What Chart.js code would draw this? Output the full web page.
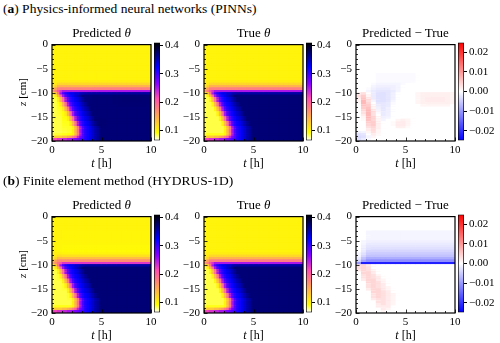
<!DOCTYPE html>
<html>
<head>
<meta charset="utf-8">
<script src="https://cdn.jsdelivr.net/npm/chart.js@4"></script>
<style>
  body { margin: 0; background: #fff; }
  #fig { position: relative; width: 500px; height: 343px; overflow: hidden; font-family: "Liberation Serif", serif; color: #000; }
  #fig canvas { position: absolute; }
  .lbl { position: absolute; white-space: nowrap; line-height: 1; }
</style>
</head>
<body>
<div id="fig"></div>
<script>
// t cell edges [h]: finer for the theta maps where the front moves, coarser for the error maps
const tEdgesTheta = [0,0.25,0.5,0.75,1,1.25,1.5,1.75,2,2.25,2.5,2.75,3,3.25,3.5,3.75,4,4.25,4.5,4.75,5,5.5,6,6.5,7,7.5,8,8.5,9,9.5,10];
const tEdgesDiff = [0,0.5,1,1.5,2,2.5,3,3.5,4,4.5,5,5.5,6,6.5,7,7.5,8,8.5,9,9.5,10];
// z cell centres [cm]
const zCenters = [-0.25,-0.75,-1.25,-1.75,-2.25,-2.75,-3.25,-3.75,-4.25,-4.75,-5.25,-5.75,-6.25,-6.75,-7.25,-7.75,-8.25,-8.75,-9.25,-9.75,
  -10.25,-10.75,-11.25,-11.75,-12.25,-12.75,-13.25,-13.75,-14.25,-14.75,-15.25,-15.75,-16.25,-16.75,-17.25,-17.75,-18.25,-18.75,-19.25,-19.75];

const tTicks = [0, 5, 10];
const zTicks = [0, -5, -10, -15, -20];
const thetaTicks = [0.1, 0.2, 0.3, 0.4];
const diffTicks = [-0.02, -0.01, 0, 0.01, 0.02];
const thetaRange = [0.065, 0.41];
const diffRange = [-0.025, 0.025];

// true water content, rows = z (top to bottom), cols = tEdgesTheta cells
const thetaTrue = [
  [0.1,0.1,0.1,0.1,0.1,0.1,0.1,0.1,0.1,0.1,0.1,0.1,0.1,0.1,0.1,0.1,0.1,0.1,0.1,0.1,0.1,0.1,0.1,0.1,0.1,0.1,0.1,0.1,0.1,0.1],
  [0.1,0.1,0.1,0.1,0.1,0.1,0.1,0.1,0.1,0.1,0.1,0.1,0.1,0.1,0.1,0.1,0.1,0.1,0.1,0.1,0.1,0.1,0.1,0.1,0.1,0.1,0.1,0.1,0.1,0.1],
  [0.1,0.1,0.1,0.1,0.1,0.1,0.1,0.1,0.1,0.1,0.1,0.1,0.1,0.1,0.1,0.1,0.1,0.1,0.1,0.1,0.1,0.1,0.1,0.1,0.1,0.1,0.1,0.1,0.1,0.1],
  [0.1,0.1,0.1,0.1,0.1,0.1,0.1,0.1,0.1,0.1,0.1,0.1,0.1,0.1,0.1,0.1,0.1,0.1,0.1,0.1,0.1,0.1,0.1,0.1,0.1,0.1,0.1,0.1,0.1,0.1],
  [0.1,0.1,0.1,0.1,0.1,0.1,0.1,0.1,0.1,0.1,0.1,0.1,0.1,0.1,0.1,0.1,0.1,0.1,0.1,0.1,0.1,0.1,0.1,0.1,0.1,0.1,0.1,0.1,0.1,0.1],
  [0.1,0.1,0.1,0.1,0.1,0.1,0.1,0.1,0.1,0.1,0.1,0.1,0.1,0.1,0.1,0.1,0.1,0.1,0.1,0.1,0.1,0.1,0.1,0.1,0.1,0.1,0.1,0.1,0.1,0.1],
  [0.1,0.1,0.1,0.1,0.1,0.1,0.1,0.1,0.1,0.1,0.1,0.1,0.1,0.1,0.1,0.1,0.1,0.1,0.1,0.1,0.1,0.1,0.1,0.1,0.1,0.1,0.1,0.1,0.1,0.1],
  [0.1,0.1,0.1,0.1,0.1,0.1,0.1,0.1,0.1,0.1,0.1,0.1,0.1,0.1,0.1,0.1,0.1,0.1,0.1,0.1,0.1,0.1,0.1,0.1,0.1,0.1,0.1,0.1,0.1,0.1],
  [0.1,0.1,0.1,0.1,0.1,0.1,0.1,0.1,0.1,0.1,0.1,0.1,0.1,0.1,0.1,0.1,0.1,0.1,0.1,0.1,0.1,0.1,0.1,0.1,0.1,0.1,0.1,0.1,0.1,0.1],
  [0.1,0.1,0.1,0.1,0.1,0.1,0.1,0.1,0.1,0.1,0.1,0.1,0.1,0.1,0.1,0.1,0.1,0.1,0.1,0.1,0.1,0.1,0.1,0.1,0.1,0.1,0.1,0.1,0.1,0.1],
  [0.1,0.1,0.1,0.1,0.1,0.1,0.1,0.1,0.1,0.1,0.1,0.1,0.1,0.1,0.1,0.1,0.1,0.1,0.1,0.1,0.1,0.1,0.1,0.1,0.1,0.1,0.1,0.1,0.1,0.1],
  [0.1,0.1,0.1,0.1,0.1,0.1,0.1,0.1,0.1,0.1,0.1,0.1,0.1,0.1,0.1,0.1,0.1,0.1,0.1,0.1,0.1,0.1,0.1,0.1,0.1,0.1,0.1,0.1,0.1,0.1],
  [0.1,0.1,0.1,0.1,0.1,0.1,0.1,0.1,0.1,0.1,0.1,0.1,0.1,0.1,0.1,0.1,0.1,0.1,0.1,0.1,0.1,0.1,0.1,0.1,0.1,0.1,0.1,0.1,0.1,0.1],
  [0.1,0.1,0.1,0.1,0.1,0.1,0.1,0.1,0.1,0.1,0.1,0.1,0.1,0.1,0.1,0.1,0.1,0.1,0.1,0.1,0.1,0.1,0.1,0.1,0.1,0.1,0.1,0.1,0.1,0.1],
  [0.1,0.1,0.1,0.1,0.1,0.1,0.1,0.1,0.1,0.1,0.1,0.1,0.1,0.1,0.1,0.1,0.1,0.1,0.1,0.1,0.1,0.1,0.1,0.1,0.1,0.1,0.1,0.1,0.1,0.1],
  [0.105,0.105,0.105,0.105,0.105,0.105,0.105,0.105,0.105,0.105,0.105,0.105,0.105,0.105,0.105,0.105,0.105,0.105,0.105,0.105,0.105,0.105,0.105,0.105,0.105,0.105,0.105,0.105,0.105,0.105],
  [0.105,0.11,0.12,0.12,0.12,0.12,0.12,0.12,0.12,0.12,0.12,0.12,0.12,0.12,0.12,0.12,0.12,0.12,0.12,0.12,0.12,0.12,0.12,0.12,0.12,0.12,0.12,0.12,0.12,0.12],
  [0.11,0.125,0.145,0.145,0.145,0.145,0.145,0.145,0.145,0.145,0.145,0.145,0.145,0.145,0.145,0.145,0.145,0.145,0.145,0.145,0.145,0.145,0.145,0.145,0.145,0.145,0.145,0.145,0.145,0.145],
  [0.14,0.16,0.18,0.18,0.18,0.18,0.18,0.18,0.18,0.18,0.18,0.18,0.18,0.18,0.18,0.18,0.18,0.18,0.18,0.18,0.18,0.18,0.18,0.18,0.18,0.18,0.18,0.18,0.18,0.18],
  [0.16,0.18,0.21,0.23,0.25,0.25,0.25,0.25,0.25,0.25,0.25,0.25,0.25,0.25,0.25,0.25,0.25,0.25,0.25,0.25,0.25,0.25,0.25,0.25,0.25,0.25,0.25,0.25,0.25,0.25],
  [0.1,0.14,0.19,0.25,0.29,0.31,0.32,0.33,0.33,0.34,0.34,0.35,0.35,0.355,0.355,0.355,0.355,0.355,0.355,0.355,0.355,0.355,0.355,0.355,0.355,0.355,0.355,0.355,0.355,0.355],
  [0.085,0.1,0.14,0.19,0.25,0.29,0.31,0.32,0.33,0.34,0.35,0.36,0.37,0.37,0.37,0.37,0.37,0.37,0.37,0.37,0.37,0.37,0.37,0.37,0.37,0.37,0.37,0.37,0.37,0.37],
  [0.085,0.085,0.1,0.14,0.19,0.25,0.29,0.31,0.32,0.33,0.34,0.35,0.36,0.37,0.37,0.37,0.37,0.37,0.37,0.37,0.37,0.37,0.37,0.37,0.37,0.37,0.37,0.37,0.37,0.37],
  [0.085,0.085,0.1,0.14,0.19,0.25,0.29,0.31,0.32,0.33,0.34,0.35,0.36,0.37,0.37,0.37,0.37,0.37,0.37,0.37,0.37,0.37,0.37,0.37,0.37,0.37,0.37,0.37,0.37,0.37],
  [0.085,0.085,0.085,0.1,0.14,0.19,0.25,0.29,0.31,0.32,0.33,0.34,0.35,0.36,0.37,0.37,0.37,0.37,0.37,0.37,0.37,0.37,0.37,0.37,0.37,0.37,0.37,0.37,0.37,0.37],
  [0.085,0.085,0.085,0.1,0.14,0.19,0.25,0.29,0.31,0.32,0.33,0.34,0.35,0.36,0.37,0.37,0.37,0.37,0.37,0.37,0.37,0.37,0.37,0.37,0.37,0.37,0.37,0.37,0.37,0.37],
  [0.085,0.085,0.085,0.085,0.1,0.14,0.19,0.25,0.29,0.31,0.32,0.33,0.34,0.35,0.36,0.37,0.37,0.37,0.37,0.37,0.37,0.37,0.37,0.37,0.37,0.37,0.37,0.37,0.37,0.37],
  [0.085,0.085,0.085,0.085,0.1,0.14,0.19,0.25,0.29,0.31,0.32,0.33,0.34,0.35,0.36,0.37,0.37,0.37,0.37,0.37,0.37,0.37,0.37,0.37,0.37,0.37,0.37,0.37,0.37,0.37],
  [0.085,0.085,0.085,0.085,0.085,0.1,0.14,0.19,0.25,0.29,0.31,0.32,0.33,0.34,0.35,0.36,0.37,0.37,0.37,0.37,0.37,0.37,0.37,0.37,0.37,0.37,0.37,0.37,0.37,0.37],
  [0.085,0.085,0.085,0.085,0.085,0.1,0.14,0.19,0.25,0.29,0.31,0.32,0.33,0.34,0.35,0.36,0.37,0.37,0.37,0.37,0.37,0.37,0.37,0.37,0.37,0.37,0.37,0.37,0.37,0.37],
  [0.085,0.085,0.085,0.085,0.085,0.085,0.1,0.14,0.19,0.25,0.29,0.31,0.32,0.33,0.34,0.35,0.36,0.37,0.37,0.37,0.37,0.37,0.37,0.37,0.37,0.37,0.37,0.37,0.37,0.37],
  [0.085,0.085,0.085,0.085,0.085,0.085,0.1,0.14,0.19,0.25,0.29,0.31,0.32,0.33,0.34,0.35,0.36,0.37,0.37,0.37,0.37,0.37,0.37,0.37,0.37,0.37,0.37,0.37,0.37,0.37],
  [0.085,0.085,0.085,0.085,0.085,0.085,0.085,0.1,0.14,0.19,0.25,0.29,0.31,0.32,0.33,0.34,0.35,0.36,0.37,0.37,0.37,0.37,0.37,0.37,0.37,0.37,0.37,0.37,0.37,0.37],
  [0.085,0.085,0.085,0.085,0.085,0.085,0.085,0.1,0.14,0.19,0.25,0.29,0.31,0.32,0.33,0.34,0.35,0.36,0.37,0.37,0.37,0.37,0.37,0.37,0.37,0.37,0.37,0.37,0.37,0.37],
  [0.085,0.085,0.085,0.085,0.085,0.085,0.085,0.085,0.1,0.14,0.19,0.25,0.29,0.31,0.32,0.33,0.34,0.35,0.36,0.37,0.37,0.37,0.37,0.37,0.37,0.37,0.37,0.37,0.37,0.37],
  [0.085,0.085,0.085,0.085,0.085,0.085,0.085,0.085,0.1,0.14,0.19,0.25,0.29,0.31,0.32,0.33,0.34,0.35,0.36,0.37,0.37,0.37,0.37,0.37,0.37,0.37,0.37,0.37,0.37,0.37],
  [0.085,0.085,0.085,0.085,0.085,0.085,0.085,0.085,0.1,0.14,0.19,0.25,0.29,0.31,0.32,0.33,0.34,0.35,0.36,0.37,0.37,0.37,0.37,0.37,0.37,0.37,0.37,0.37,0.37,0.37],
  [0.09,0.09,0.09,0.09,0.09,0.09,0.09,0.09,0.1,0.14,0.19,0.25,0.29,0.31,0.32,0.33,0.34,0.35,0.36,0.37,0.37,0.37,0.37,0.37,0.37,0.37,0.37,0.37,0.37,0.37],
  [0.13,0.13,0.13,0.13,0.14,0.14,0.15,0.16,0.18,0.2,0.24,0.27,0.29,0.31,0.32,0.33,0.34,0.35,0.36,0.37,0.37,0.37,0.37,0.37,0.37,0.37,0.37,0.37,0.37,0.37],
  [0.22,0.22,0.23,0.23,0.24,0.24,0.25,0.25,0.26,0.27,0.28,0.29,0.3,0.31,0.32,0.33,0.34,0.35,0.36,0.37,0.37,0.37,0.37,0.37,0.37,0.37,0.37,0.37,0.37,0.37]
];

// predicted - true, PINNs (cols = tEdgesDiff cells)
const diffPinn = [
  [0,0,0,0,0,0,0,0,0,0,0,0,0,0,0,0,0,0,0,0],
  [0,0,0,0,0,0,0,0,0,0,0,0,0,0,0,0,0,0,0,0],
  [0,0,0,0,0,0,0,0,0,0,0,0,0,0,0,0,0,0,0,0],
  [0,0,0,0,0,0,0,0,0,0,0,0,0,0,0,0,0,0,0,0],
  [0,0,0,0,0,0,0,0,0,0,0,0,0,0,0,0,0,0,0,0],
  [0,0,0,0,0,0,0,0,0,0,0,0,0,0,0,0,0,0,0,0],
  [0,0,0,0,0,0,0,0,0,0,0,0,0,0,0,0,0,0,0,0],
  [0,0,0,0,0,0,0,0,0,0,0,0,0,0,0,0,0,0,0,0],
  [0,0,0,0,0,0,0,0,0,0,0,0,0,0,0,0,0,0,0,0],
  [0,0,0,0,0,0,0,0,0,0,0,0,0,0,0,0,0,0,0,0],
  [0,0,0,0,0,0,0,0,0,0,0,0,0,0,0,0,0,0,0,0],
  [0,0,0,0,0,0,0,0,0,0,0,0,0,0,0,0,0,0,0,0],
  [0,0,0,0,-0.0005,-0.0005,-0.0005,-0.0005,-0.0005,-0.0005,-0.0005,-0.0005,0,0,0,0,0,0,0,0],
  [0,0,0,0,-0.0005,-0.0005,-0.0005,-0.0005,-0.0005,-0.0005,-0.0005,-0.0005,0,0,0,0,0,0,0,0],
  [0,0,0,0,-0.0005,-0.0005,-0.0005,-0.0005,-0.0005,-0.0005,-0.0005,-0.0005,0,0,0,0,0,0,0,0],
  [0,0,0,0,-0.0005,-0.0005,-0.0005,-0.0005,-0.0005,-0.0005,-0.0005,-0.0005,0,0,0,0,0,0,0,0],
  [0,0,0,-0.0005,-0.001,-0.001,-0.001,-0.001,-0.001,-0.0005,0,0,0,0,0,0,0,0,0,0],
  [0,0,0,-0.001,-0.0015,-0.0015,-0.0015,-0.0015,-0.001,0,0,0,0,0,0,0,0,0,0,0],
  [0,0,-0.0005,-0.0015,-0.002,-0.002,-0.002,-0.0015,-0.001,0,0,0,0,0,0,0,0,0,0,0],
  [0,0,-0.001,-0.002,-0.0025,-0.0025,-0.0025,-0.002,-0.001,0,0,0,0,0,0,0,0,0,0,0],
  [0.002,0.003,0,-0.002,-0.003,-0.003,-0.0025,-0.0015,0,0,0,0,0.001,0.0015,0.0015,0.0015,0.0015,0.0015,0.0015,0.001],
  [0.003,0.005,0.001,-0.002,-0.003,-0.003,-0.0025,-0.0015,0,0,0,0,0.001,0.0015,0.0015,0.0015,0.0015,0.0015,0.0015,0.001],
  [0.002,0.006,0.002,-0.002,-0.003,-0.003,-0.0025,-0.0015,0,0,0,0,0.001,0.0015,0.002,0.002,0.002,0.002,0.0015,0.001],
  [0.001,0.007,0.003,-0.001,-0.003,-0.003,-0.0025,-0.001,0,0,0,0,0.001,0.0015,0.002,0.002,0.002,0.002,0.0015,0.001],
  [0.0005,0.007,0.004,0,-0.0025,-0.0025,-0.002,-0.0005,0,0,0,0,0.001,0.0015,0.0015,0.0015,0.0015,0.0015,0.0015,0.001],
  [0,0.006,0.005,0.0005,-0.002,-0.0025,-0.002,0,0,0,0,0,0,0.001,0.001,0.001,0.001,0.001,0.001,0],
  [0,0.005,0.006,0.001,-0.0015,-0.0025,-0.0015,0,0,0,0,0,0,0,0,0,0,0,0,0],
  [0,0.004,0.007,0.002,-0.001,-0.0025,-0.0015,0,0,0,0,0,0,0,0,0,0,0,0,0],
  [0,0.003,0.007,0.003,-0.0005,-0.002,-0.0015,0,0,0,0,0,0,0,0,0,0,0,0,0],
  [0,0.002,0.007,0.003,0,-0.002,-0.0015,0,0,0,0,0,0,0,0,0,0,0,0,0],
  [0,0.001,0.007,0.004,0.0005,-0.0015,-0.001,0,0,0,0,0,0,0,0,0,0,0,0,0],
  [0,0.0005,0.006,0.004,0.001,-0.001,0,0,0.001,0.0015,0.001,0,0,0,0,0,0,0,0,0],
  [0,0,0.005,0.005,0.001,0,0,0.0005,0.002,0.002,0.001,0,0,0,0,0,0,0,0,0],
  [0,0,0.004,0.005,0.0015,0,0,0.0005,0.002,0.002,0.001,0,0,0,0,0,0,0,0,0],
  [0,0,0.003,0.004,0.0015,0,0,0,0.0015,0.0015,0.0005,0,0,0,0,0,0,0,0,0],
  [0,0,0.002,0.0035,0.001,0,0,0,0,0,0,0,0,0,0,0,0,0,0,0],
  [-0.0015,-0.001,0.001,0.003,0.001,0,0,0,0,0,0,0,0,0,0,0,0,0,0,0],
  [-0.003,-0.0025,0,0.002,0.0005,0,0,0,0,0,0,0,0,0,0,0,0,0,0,0],
  [-0.0035,-0.003,-0.001,0.001,0,0,0,0,0,0,0,0,0,0,0,0,0,0,0,0],
  [-0.003,-0.002,-0.0005,0,0,0,0,0,0,0,0,0,0,0,0,0,0,0,0,0]
];

// predicted - true, finite element method (cols = tEdgesDiff cells)
const diffFem = [
  [0,0,0,0,0,0,0,0,0,0,0,0,0,0,0,0,0,0,0,0],
  [0,0,0,0,0,0,0,0,0,0,0,0,0,0,0,0,0,0,0,0],
  [0,0,0,0,0,0,0,0,0,0,0,0,0,0,0,0,0,0,0,0],
  [0,0,0,0,0,0,0,0,0,0,0,0,0,0,0,0,0,0,0,0],
  [0,0,0,0,0,0,0,0,0,0,0,0,0,0,0,0,0,0,0,0],
  [0,0,0,0,0,0,0,0,0,0,0,0,0,0,0,0,0,0,0,0],
  [0,0,-0.001,-0.001,-0.001,-0.001,-0.001,-0.001,-0.001,-0.001,-0.001,-0.001,-0.001,-0.001,-0.001,-0.001,-0.001,-0.001,-0.001,-0.001],
  [0,0,-0.001,-0.001,-0.001,-0.001,-0.001,-0.001,-0.001,-0.001,-0.001,-0.001,-0.001,-0.001,-0.001,-0.001,-0.001,-0.001,-0.001,-0.001],
  [0,0,-0.001,-0.001,-0.001,-0.001,-0.001,-0.001,-0.001,-0.001,-0.001,-0.001,-0.001,-0.001,-0.001,-0.001,-0.001,-0.001,-0.001,-0.001],
  [0,0,-0.001,-0.001,-0.001,-0.001,-0.001,-0.001,-0.001,-0.001,-0.001,-0.001,-0.001,-0.001,-0.001,-0.001,-0.001,-0.001,-0.001,-0.001],
  [0,-0.001,-0.0015,-0.0015,-0.0015,-0.0015,-0.0015,-0.0015,-0.0015,-0.0015,-0.0015,-0.0015,-0.0015,-0.0015,-0.0015,-0.0015,-0.0015,-0.0015,-0.0015,-0.0015],
  [0,-0.001,-0.002,-0.002,-0.002,-0.002,-0.002,-0.002,-0.002,-0.002,-0.002,-0.002,-0.002,-0.002,-0.002,-0.002,-0.002,-0.002,-0.002,-0.002],
  [0,-0.0015,-0.0025,-0.0025,-0.0025,-0.0025,-0.0025,-0.0025,-0.0025,-0.0025,-0.0025,-0.0025,-0.0025,-0.0025,-0.0025,-0.0025,-0.0025,-0.0025,-0.0025,-0.0025],
  [0,-0.002,-0.003,-0.003,-0.003,-0.003,-0.003,-0.003,-0.003,-0.003,-0.003,-0.003,-0.003,-0.003,-0.003,-0.003,-0.003,-0.003,-0.003,-0.003],
  [0,-0.002,-0.004,-0.004,-0.004,-0.004,-0.004,-0.004,-0.004,-0.004,-0.004,-0.004,-0.004,-0.004,-0.004,-0.004,-0.004,-0.004,-0.004,-0.004],
  [-0.001,-0.003,-0.005,-0.005,-0.005,-0.005,-0.005,-0.005,-0.005,-0.005,-0.005,-0.005,-0.005,-0.005,-0.005,-0.005,-0.005,-0.005,-0.005,-0.005],
  [-0.001,-0.004,-0.006,-0.006,-0.006,-0.006,-0.006,-0.006,-0.006,-0.006,-0.006,-0.006,-0.006,-0.006,-0.006,-0.006,-0.006,-0.006,-0.006,-0.006],
  [-0.002,-0.006,-0.008,-0.008,-0.008,-0.008,-0.008,-0.008,-0.008,-0.008,-0.008,-0.008,-0.008,-0.008,-0.008,-0.008,-0.008,-0.008,-0.008,-0.008],
  [-0.004,-0.009,-0.011,-0.011,-0.011,-0.011,-0.011,-0.011,-0.011,-0.011,-0.011,-0.011,-0.011,-0.011,-0.011,-0.011,-0.011,-0.011,-0.011,-0.011],
  [-0.01,-0.022,-0.022,-0.022,-0.022,-0.022,-0.022,-0.022,-0.022,-0.022,-0.022,-0.022,-0.022,-0.022,-0.022,-0.022,-0.022,-0.022,-0.022,-0.022],
  [0.003,0.004,0.002,0,0,0,0,0,0,0,0,0,0,0,0,0,0,0,0,0],
  [0.003,0.004,0.003,0,0,0,0,0,0,0,0,0,0,0,0,0,0,0,0,0],
  [0.002,0.004,0.003,0.001,0,0,0,0,0,0,0,0,0,0,0,0,0,0,0,0],
  [0,0.004,0.004,0.002,0,0,0,0,0,0,0,0,0,0,0,0,0,0,0,0],
  [0,0.003,0.004,0.003,0.001,0,0,0,0,0,0,0,0,0,0,0,0,0,0,0],
  [0,0.003,0.004,0.003,0.002,0,0,0,0,0,0,0,0,0,0,0,0,0,0,0],
  [0,0.002,0.004,0.004,0.002,0.001,0,0,0,0,0,0,0,0,0,0,0,0,0,0],
  [0,0,0.004,0.004,0.003,0.001,0,0,0,0,0,0,0,0,0,0,0,0,0,0],
  [0,0,0.003,0.004,0.003,0.002,0,0,0,0,0,0,0,0,0,0,0,0,0,0],
  [0,0,0.003,0.004,0.003,0.002,0.001,0,0,0,0,0,0,0,0,0,0,0,0,0],
  [0,0,0.002,0.004,0.004,0.002,0.001,0,0,0,0,0,0,0,0,0,0,0,0,0],
  [0,0,0,0.004,0.004,0.003,0.002,0,0,0,0,0,0,0,0,0,0,0,0,0],
  [0,0,0,0.003,0.004,0.003,0.002,0.001,0,0,0,0,0,0,0,0,0,0,0,0],
  [0,0,0,0.003,0.004,0.003,0.002,0.001,0,0,0,0,0,0,0,0,0,0,0,0],
  [0,0,0,0.002,0.003,0.003,0.002,0.001,0,0,0,0,0,0,0,0,0,0,0,0],
  [0,0,0,0,0.003,0.003,0.002,0.001,0,0,0,0,0,0,0,0,0,0,0,0],
  [0,0,0,0,0.002,0.003,0.002,0.001,0,0,0,0,0,0,0,0,0,0,0,0],
  [0,0,0,0,0.002,0.002,0.002,0,0,0,0,0,0,0,0,0,0,0,0,0],
  [0,0,0,0,0,0.002,0.001,0,0,0,0,0,0,0,0,0,0,0,0,0],
  [0,0,0,0,0,0.001,0,0,0,0,0,0,0,0,0,0,0,0,0,0]
];

// predicted = true + (predicted - true), looked up in the error cell that holds each theta cell
function diffCol(k) {
  const tc = (tEdgesTheta[k] + tEdgesTheta[k + 1]) / 2;
  return tEdgesDiff.findIndex((t, j) => tc >= t && tc < tEdgesDiff[j + 1]);
}
const addDiff = diff => thetaTrue.map((row, i) => row.map((v, k) => v + diff[i][diffCol(k)]));
const thetaPinn = addDiff(diffPinn);
const thetaFem = addDiff(diffFem);

Chart.defaults.font.family = '"Liberation Serif", serif';
Chart.defaults.color = '#000';

const fig = document.getElementById('fig');
const tickFont = { size: 11 };

// colour maps
const clip01 = v => Math.max(0, Math.min(1, v));
function gnuplot2(x) {
  const r = clip01(x / 0.32 - 0.78125);
  const g = clip01(2 * x - 0.84);
  const b = clip01(x < 0.25 ? 4 * x : x < 0.92 ? -2 * x + 1.84 : x / 0.08 - 11.5);
  return [r, g, b];
}
function bwr(x) {
  return x < 0.5 ? [2 * x, 2 * x, 1] : [1, 2 - 2 * x, 2 - 2 * x];
}
const toRgb = c => `rgb(${Math.round(c[0] * 255)},${Math.round(c[1] * 255)},${Math.round(c[2] * 255)})`;
const norm = (v, r) => clip01((v - r[0]) / (r[1] - r[0]));
const thetaMap = f => gnuplot2(1 - f);   // reversed
const diffMap = f => bwr(f);

const minus = (v, d) => (v < 0 ? '\u2212' : '') + Math.abs(v).toFixed(d);

function makeCanvas(left, top, w, h) {
  const c = document.createElement('canvas');
  c.width = w; c.height = h;
  c.style.left = left + 'px'; c.style.top = top + 'px';
  c.style.width = w + 'px'; c.style.height = h + 'px';
  fig.appendChild(c);
  return c;
}

// frame + inward ticks
const frame = {
  id: 'frame',
  afterDatasetsDraw(chart) {
    const { ctx, chartArea: a, scales: { x, y } } = chart;
    ctx.save();
    ctx.strokeStyle = '#000';
    ctx.lineWidth = 0.8;
    ctx.beginPath();
    for (let v = -20; v <= 0; v++) {
      const p = Math.round(y.getPixelForValue(v)) + 0.5;
      ctx.moveTo(a.left, p); ctx.lineTo(a.left + (v % 5 ? 2 : 3.5), p);
    }
    for (let v = 0; v <= 10; v++) {
      const p = Math.round(x.getPixelForValue(v)) + 0.5;
      ctx.moveTo(p, a.bottom); ctx.lineTo(p, a.bottom - (v % 5 ? 2 : 3.5));
    }
    ctx.stroke();
    ctx.lineWidth = 1.2;
    ctx.strokeRect(a.left, a.top, a.right - a.left, a.bottom - a.top);
    ctx.restore();
  }
};

const PW = 99, PH = 99;

function heatmap(left, top, grid, edges, range, cmap) {
  const cv = makeCanvas(left - 34, top - 8, 34 + PW + 10, 8 + PH + 18);
  const data = [], colors = [];
  const last = edges.length - 1;
  zCenters.forEach((z, i) => {
    for (let j = 0; j < last; j++) {
      // each cell reaches into the next one, which is drawn over it (no seams)
      data.push({ y: z, x: [edges[j], edges[Math.min(j + 2, last)]] });
      colors.push(toRgb(cmap(norm(grid[i][j], range))));
    }
  });
  new Chart(cv, {
    type: 'bar',
    data: { datasets: [{ data, backgroundColor: colors, borderWidth: 0, barPercentage: 1.4, categoryPercentage: 1, clip: 0 }] },
    options: {
      indexAxis: 'y',
      animation: false, responsive: false, events: [],
      layout: { padding: { top: 8, right: 10, left: 0, bottom: 0 } },
      plugins: { legend: { display: false }, tooltip: { enabled: false } },
      scales: {
        x: {
          type: 'linear', min: 0, max: 10,
          afterFit: s => { s.height = 18; },
          afterBuildTicks: s => { s.ticks = tTicks.map(v => ({ value: v })); },
          grid: { display: false, drawTicks: false }, border: { display: false },
          ticks: { font: tickFont, padding: 3, maxRotation: 0, callback: v => minus(v, 0) }
        },
        y: {
          type: 'linear', min: -20, max: 0, offset: false,
          afterFit: s => { s.width = 34; },
          afterBuildTicks: s => { s.ticks = zTicks.map(v => ({ value: v })); },
          grid: { display: false, drawTicks: false }, border: { display: false },
          ticks: { font: tickFont, padding: 4, callback: v => minus(v, 0) }
        }
      }
    },
    plugins: [frame]
  });
}

function colorbar(left, top, range, ticks, cmap, digits) {
  const cv = makeCanvas(left, top - 8, 6 + 30, 8 + PH + 8);
  const gradient = chart => {
    const a = chart.chartArea;
    if (!a) return null;
    const g = chart.ctx.createLinearGradient(0, a.bottom, 0, a.top);
    for (let k = 0; k <= 64; k++) g.addColorStop(k / 64, toRgb(cmap(k / 64)));
    return g;
  };
  new Chart(cv, {
    type: 'bar',
    data: {
      labels: [''],
      datasets: [{ data: [range], backgroundColor: c => gradient(c.chart), borderColor: '#000', borderWidth: 1, borderSkipped: false, barPercentage: 1, categoryPercentage: 1 }]
    },
    options: {
      animation: false, responsive: false, events: [],
      layout: { padding: { top: 8, bottom: 8, left: 0, right: 0 } },
      plugins: { legend: { display: false }, tooltip: { enabled: false } },
      scales: {
        x: { display: false },
        y: {
          position: 'right', min: range[0], max: range[1],
          afterFit: s => { s.width = 30; },
          afterBuildTicks: s => { s.ticks = ticks.map(v => ({ value: v })); },
          grid: { drawOnChartArea: false, tickLength: 3, color: '#000' },
          border: { display: false },
          ticks: { font: tickFont, padding: 2, callback: v => minus(v, digits) }
        }
      }
    }
  });
}

function label(html, x, y, size, opts = {}) {
  const d = document.createElement('div');
  d.className = 'lbl';
  d.innerHTML = html;
  d.style.fontSize = size + 'px';
  d.style.left = x + 'px';
  d.style.top = y + 'px';
  d.style.transform = (opts.left ? 'translate(0,-50%)' : 'translate(-50%,-50%)') + (opts.rot ? ' rotate(-90deg)' : '');
  fig.appendChild(d);
}

const colLefts = [52, 204, 356];
const rowTops = [42, 214];
const rows = [
  { head: '(<b>a</b>) Physics-informed neural networks (PINNs)', pred: thetaPinn, diff: diffPinn },
  { head: '(<b>b</b>) Finite element method (HYDRUS-1D)', pred: thetaFem, diff: diffFem }
];
const titles = ['Predicted <i>θ</i>', 'True <i>θ</i>', 'Predicted \u2212 True'];

rows.forEach((r, ri) => {
  const top = rowTops[ri];
  const grids = [r.pred, thetaTrue, r.diff];
  grids.forEach((g, ci) => {
    const left = colLefts[ci];
    const isDiff = ci === 2;
    heatmap(left, top, g, isDiff ? tEdgesDiff : tEdgesTheta, isDiff ? diffRange : thetaRange, isDiff ? diffMap : thetaMap);
    colorbar(left + PW + 3, top, isDiff ? diffRange : thetaRange, isDiff ? diffTicks : thetaTicks, isDiff ? diffMap : thetaMap, isDiff ? 2 : 1);
    label(titles[ci], left + PW / 2, top - 10, 13);
    label('<i>t</i> [h]', left + PW / 2, top + 121, 12);
  });
  label('<i>z</i> [cm]', 22, top + PH / 2, 11, { rot: true });
  label(r.head, 3, top - 33, 13.5, { left: true });
});
</script>
</body>
</html>
